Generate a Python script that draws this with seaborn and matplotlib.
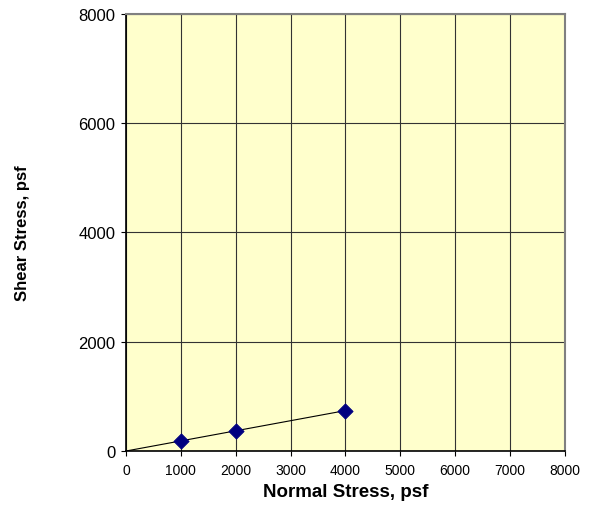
import matplotlib
matplotlib.use("Agg")
import matplotlib.pyplot as plt
import seaborn as sns
import pandas as pd

# test data
normal_stress = [1000, 2000, 4000]
shear_stress = [190, 375, 740]

# fitted failure envelope through the origin
fit_normal = [0, 4000]
fit_shear = [0, 740]

x_ticks = [0, 1000, 2000, 3000, 4000, 5000, 6000, 7000, 8000]
y_ticks = [0, 2000, 4000, 6000, 8000]

sns.set_style("white")
plt.rcParams['font.family'] = ['Liberation Sans', 'DejaVu Sans']
plt.rcParams['text.color'] = 'black'
plt.rcParams['axes.labelcolor'] = 'black'

df = pd.DataFrame({"normal": normal_stress, "shear": shear_stress})

fig = plt.figure(figsize=(5.91, 5.06), dpi=100)
ax = fig.add_axes([0.2132, 0.1067, 0.7428, 0.8637])
ax.set_facecolor("#FFFFCC")

ax.plot(fit_normal, fit_shear, color="black", linewidth=0.8, zorder=3)
sns.scatterplot(data=df, x="normal", y="shear", marker="D", s=60,
                color="#000080", edgecolor="#000080", ax=ax, zorder=4)

ax.set_xlim(0, 8000)
ax.set_ylim(0, 8000)
ax.set_xticks(x_ticks)
ax.set_yticks(y_ticks)
ax.grid(True, color="#333333", linewidth=0.8)
ax.set_axisbelow(True)

for side in ["top", "right"]:
    ax.spines[side].set_color("#808080")
    ax.spines[side].set_linewidth(1.5)
for side in ["left", "bottom"]:
    ax.spines[side].set_color("black")
    ax.spines[side].set_linewidth(1.2)

ax.tick_params(axis="both", direction="out", length=3.6, width=0.8,
               colors="black", bottom=True, left=True)
ax.tick_params(axis="x", labelsize=10, pad=5)
ax.tick_params(axis="y", labelsize=12, pad=4)

ax.set_xlabel("Normal Stress, psf", fontsize=13.5, fontweight="bold", labelpad=4)
ax.set_ylabel("Shear Stress, psf", fontsize=12, fontweight="bold", labelpad=35)

fig.savefig("out.png", dpi=100)
